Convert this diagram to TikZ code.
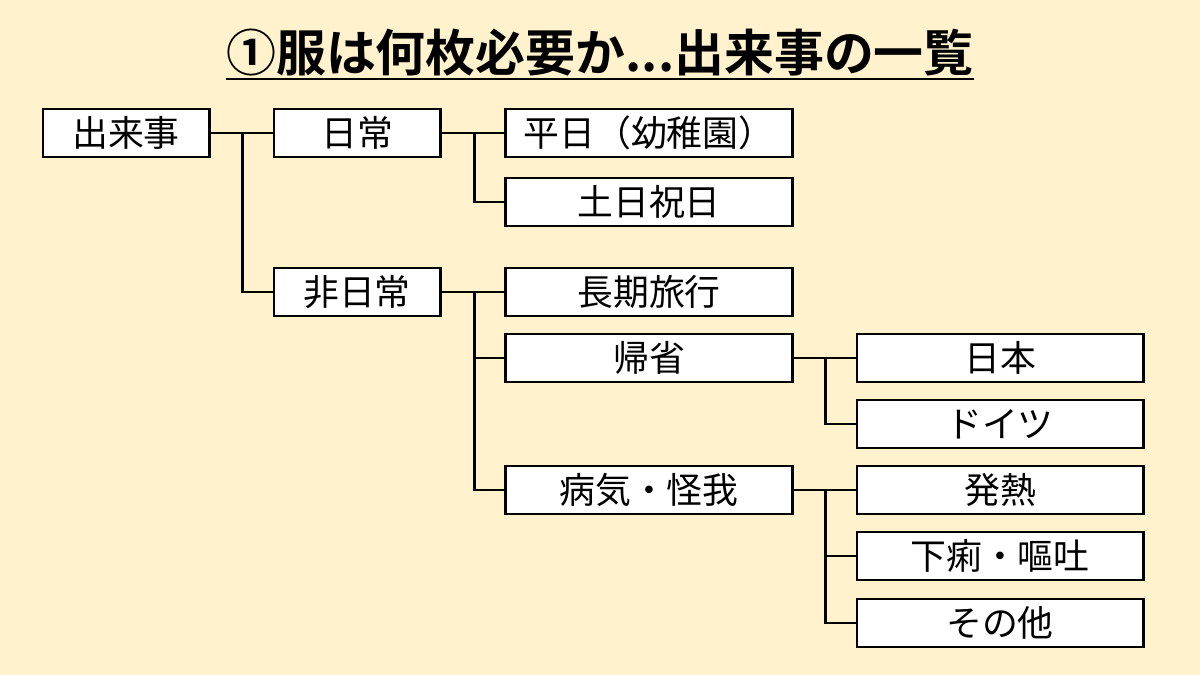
\documentclass[tikz,border=0pt]{standalone}
\usepackage{fontspec}
\setmainfont{Noto Sans CJK JP}
\newfontfamily\titlefont{Noto Sans CJK JP Bold}
\definecolor{bgyellow}{HTML}{FFF2CC}
\begin{document}
\begin{tikzpicture}[
            x=0.025cm, y=-0.025cm,
            box/.style={draw, fill=white, line width=2.1pt, inner sep=0pt,
                minimum height=1.2cm, font=\fontsize{25.5}{30}\selectfont},
            box1/.style={box, minimum width=4.15cm},
            box2/.style={box, minimum width=7.15cm},
            conn/.style={line width=2.1pt}
        ]
        \fill[bgyellow] (0,0) rectangle (1200,675);
        \useasboundingbox (0,0) rectangle (1200,675);
        \node[inner xsep=0pt, inner ysep=1.5pt, font=\titlefont\fontsize{35.5}{40}\selectfont] (title) at (600,53) {①服は何枚必要か...出来事の一覧};
        \draw[line width=2.1pt] (title.south west) -- (title.south east);
        \node[box1] (dekigoto) at (126,133) {出来事};
        \node[box1] (nichijo) at (357,133) {日常};
        \node[box1] (hinichijo) at (357,292) {非日常};
        \node[box2] (heijitsu) at (649,133) {平日（幼稚園）};
        \node[box2] (donichi) at (649,202) {土日祝日};
        \node[box2] (ryoko) at (649,292) {長期旅行};
        \node[box2] (kisei) at (649,358) {帰省};
        \node[box2] (byoki) at (649,490) {病気・怪我};
        \node[box2] (nihon) at (1000,358) {日本};
        \node[box2] (doitsu) at (1000,424) {ドイツ};
        \node[box2] (hatsunetsu) at (1000,490) {発熱};
        \node[box2] (geri) at (1000,556) {下痢・嘔吐};
        \node[box2] (sonota) at (1000,623) {その他};
        \draw[conn] (dekigoto.east) -- (nichijo.west);
        \draw[conn] (dekigoto.east) -- ++(32,0) |- (hinichijo.west);
        \draw[conn] (nichijo.east) -- (heijitsu.west);
        \draw[conn] (nichijo.east) -- ++(33,0) |- (donichi.west);
        \draw[conn] (hinichijo.east) -- (ryoko.west);
        \draw[conn] (hinichijo.east) -- ++(33,0) |- (kisei.west);
        \draw[conn] (hinichijo.east) -- ++(33,0) |- (byoki.west);
        \draw[conn] (kisei.east) -- (nihon.west);
        \draw[conn] (kisei.east) -- ++(32,0) |- (doitsu.west);
        \draw[conn] (byoki.east) -- (hatsunetsu.west);
        \draw[conn] (byoki.east) -- ++(32,0) |- (geri.west);
        \draw[conn] (byoki.east) -- ++(32,0) |- (sonota.west);
    \end{tikzpicture}
\end{document}
